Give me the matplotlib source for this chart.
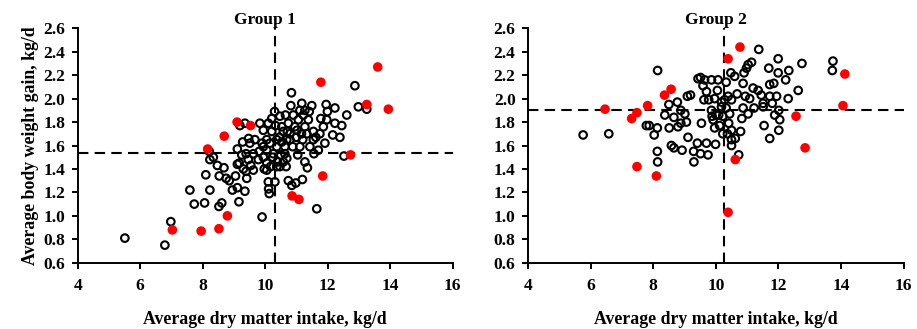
import matplotlib
matplotlib.use("Agg")
import matplotlib.pyplot as plt

plt.rcParams['font.family'] = ['Liberation Serif', 'DejaVu Serif']
plt.rcParams['font.weight'] = 'bold'

# ---- Group 1 data ----
g1_black_x = [5.51, 6.79, 6.98, 7.59, 7.73, 8.06, 8.10, 8.23, 8.52, 8.61, 8.53, 8.47, 8.23, 8.34, 8.21,
              8.68, 8.75, 8.85, 8.95, 9.05, 9.11, 9.16, 9.35, 9.41, 9.90, 9.11, 9.17, 9.11, 9.30, 9.46,
              9.54, 9.39, 9.62, 9.19, 9.35, 9.28, 9.47, 9.51, 9.83, 9.94, 9.90, 9.81, 9.94, 10.05, 9.97,
              10.05, 10.10, 10.13, 10.11, 10.31, 10.24, 10.15, 10.21, 10.21, 10.30, 10.47, 10.53, 10.45, 10.37, 10.50,
              10.47, 10.39, 10.63, 10.63, 10.67, 10.65, 10.74, 10.71, 10.84, 10.82, 10.90, 10.95, 10.79, 10.88, 10.74,
              10.85, 10.98, 11.19, 11.04, 11.11, 11.17, 11.11, 11.06, 11.22, 11.27, 11.33, 11.20, 11.27, 11.35, 11.49,
              11.54, 11.62, 11.43, 11.56, 11.65, 11.78, 11.86, 11.91, 11.95, 11.99, 11.97, 12.16, 12.23, 12.23, 12.39,
              12.45, 12.61, 12.52, 12.87, 12.98, 13.25, 10.05, 10.17, 10.26, 10.37, 10.58, 10.69, 10.53, 10.37, 10.05,
              9.94, 9.67, 9.62, 9.78, 9.39, 9.25, 10.79, 11.00, 11.02, 11.16, 11.38, 11.41, 11.27, 11.54, 11.70,
              11.75, 10.58, 10.69, 10.33, 10.10]
g1_black_y = [0.81, 0.75, 0.95, 1.22, 1.10, 1.11, 1.35, 1.22, 1.08, 1.11, 1.34, 1.43, 1.48, 1.50, 1.55,
              1.41, 1.32, 1.30, 1.22, 1.34, 1.24, 1.12, 1.21, 1.32, 0.99, 1.57, 1.45, 1.44, 1.40, 1.48,
              1.43, 1.38, 1.39, 1.77, 1.79, 1.63, 1.66, 1.62, 1.79, 1.73, 1.62, 1.55, 1.50, 1.45, 1.40,
              1.56, 1.29, 1.19, 1.23, 1.29, 1.50, 1.62, 1.72, 1.83, 1.89, 1.85, 1.76, 1.67, 1.59, 1.52,
              1.42, 1.46, 1.53, 1.59, 1.42, 1.86, 1.79, 1.72, 2.05, 1.94, 1.86, 1.76, 1.65, 1.59, 1.30,
              1.26, 1.28, 1.31, 1.52, 1.59, 1.96, 1.90, 1.82, 1.86, 1.76, 1.70, 1.65, 1.46, 1.41, 1.94,
              1.72, 1.67, 1.59, 1.53, 1.06, 1.83, 1.76, 1.62, 1.95, 1.89, 1.82, 1.69, 1.92, 1.79, 1.67,
              1.77, 1.86, 1.51, 2.11, 1.93, 1.91, 1.39, 1.42, 1.53, 1.42, 1.46, 1.49, 1.63, 1.65, 1.65,
              1.59, 1.65, 1.53, 1.48, 1.53, 1.52, 1.70, 1.67, 1.73, 1.70, 1.82, 1.89, 1.90, 1.65, 1.56,
              1.70, 1.72, 1.65, 1.77, 1.79]
g1_red_x = [7.03, 7.95, 8.52, 8.79, 8.16, 8.69, 9.10, 9.53, 10.86, 11.08, 11.84, 11.78, 12.73, 13.25, 13.60, 13.94]
g1_red_y = [0.88, 0.87, 0.89, 1.00, 1.57, 1.68, 1.80, 1.77, 1.17, 1.14, 1.34, 2.14, 1.52, 1.95, 2.27, 1.91]
g1_vline = 10.32
g1_hline = 1.54

# ---- Group 2 data ----
g2_black_x = [5.76, 6.58, 8.14, 7.78, 7.87, 8.13, 8.03, 8.13, 8.14, 8.37, 8.50, 8.51, 8.66, 8.79, 8.77,
              8.88, 9.01, 9.09, 9.19, 9.06, 8.88, 8.58, 8.66, 8.92, 9.11, 9.41, 9.29, 9.30, 9.51, 9.70,
              9.75, 9.99, 9.43, 9.51, 9.64, 9.59, 9.70, 9.77, 9.86, 10.05, 10.07, 9.96, 9.62, 9.54, 9.86,
              9.91, 9.96, 10.09, 10.18, 10.12, 10.22, 10.28, 10.33, 10.41, 10.44, 10.48, 10.50, 10.50, 10.50, 10.50,
              10.62, 10.60, 10.68, 10.73, 10.79, 10.83, 10.87, 10.87, 10.90, 10.98, 11.03, 11.14, 10.94, 11.08, 11.03,
              11.22, 11.19, 11.35, 11.37, 11.45, 11.51, 11.51, 11.54, 11.72, 11.72, 11.69, 11.80, 11.85, 11.99, 11.99,
              11.88, 11.94, 12.01, 12.04, 12.01, 11.72, 12.23, 12.33, 12.31, 12.63, 12.75, 13.74, 13.72, 10.01, 10.33,
              10.22, 10.18, 10.39, 9.88, 10.37]
g2_black_y = [1.69, 1.70, 2.24, 1.77, 1.77, 1.75, 1.69, 1.55, 1.46, 1.86, 1.95, 1.75, 1.84, 1.76, 1.97,
              1.90, 1.87, 2.02, 2.03, 1.80, 1.79, 1.60, 1.58, 1.56, 1.67, 1.62, 1.55, 1.46, 1.53, 1.62,
              1.52, 1.61, 2.17, 2.18, 2.16, 2.11, 2.06, 1.99, 2.16, 2.07, 2.16, 2.00, 1.99, 1.79, 1.90,
              1.82, 1.75, 1.86, 1.93, 1.77, 1.70, 1.99, 2.14, 1.79, 1.87, 2.22, 1.99, 1.73, 1.65, 1.60,
              1.66, 2.19, 2.04, 1.52, 1.72, 1.83, 1.92, 2.13, 2.22, 2.26, 2.29, 2.31, 2.02, 2.00, 1.87,
              1.92, 2.09, 2.07, 2.42, 2.03, 1.96, 1.93, 1.77, 2.12, 2.02, 2.26, 1.96, 2.13, 2.34, 2.22,
              1.86, 2.02, 1.90, 1.82, 1.73, 1.66, 2.16, 2.24, 2.00, 2.07, 2.30, 2.32, 2.24, 1.86, 1.92,
              1.85, 1.97, 2.02, 1.85, 1.70]
g2_red_x = [6.46, 7.31, 7.48, 7.82, 7.48, 8.10, 8.36, 8.57, 10.39, 10.77, 10.62, 10.39, 12.56, 12.85, 14.06, 14.12]
g2_red_y = [1.91, 1.83, 1.88, 1.94, 1.42, 1.34, 2.03, 2.08, 2.34, 2.44, 1.48, 1.03, 1.85, 1.58, 1.94, 2.21]
g2_vline = 10.25
g2_hline = 1.90

titles = ["Group 1", "Group 2"]
xlabel = "Average dry matter intake, kg/d"
ylabel = "Average body weight gain, kg/d"
xticks = [4, 6, 8, 10, 12, 14, 16]
yticks = [0.6, 0.8, 1.0, 1.2, 1.4, 1.6, 1.8, 2.0, 2.2, 2.4, 2.6]

fig = plt.figure(figsize=(9.17, 3.29), dpi=100)
ax1 = fig.add_axes([0.0847, 0.2015, 0.409, 0.7125])
ax2 = fig.add_axes([0.5758, 0.2015, 0.4097, 0.7125])

panels = [
    (ax1, g1_black_x, g1_black_y, g1_red_x, g1_red_y, g1_vline, g1_hline),
    (ax2, g2_black_x, g2_black_y, g2_red_x, g2_red_y, g2_vline, g2_hline),
]
for i, (ax, bx, by, rx, ry, vl, hl) in enumerate(panels):
    ax.scatter(bx, by, s=30, facecolors='none', edgecolors='black', linewidths=1.5, zorder=3)
    ax.scatter(rx, ry, s=48, color='#ff0000', edgecolors='none', zorder=4)
    ax.axvline(vl, color='black', lw=1.5, ls=(0, (5, 3)), zorder=2)
    ax.axhline(hl, color='black', lw=1.5, ls=(0, (5, 3)), zorder=2)
    ax.set_xlim(4, 16)
    ax.set_ylim(0.6, 2.6)
    ax.set_xticks(xticks)
    ax.set_yticks(yticks)
    ax.set_yticklabels([f"{v:.1f}" for v in yticks])
    ax.spines['top'].set_visible(False)
    ax.spines['right'].set_visible(False)
    ax.spines['left'].set_linewidth(1.4)
    ax.spines['bottom'].set_linewidth(1.4)
    ax.tick_params(direction='out', length=4, width=1.4, labelsize=12.5, pad=5)
    ax.tick_params(axis='x', pad=7)
    for lab in ax.get_xticklabels() + ax.get_yticklabels():
        lab.set_fontweight('bold')
    ax.set_title(titles[i], fontsize=12.5, fontweight='bold', pad=3)
    ax.set_xlabel(xlabel, fontsize=12.8, fontweight='bold', labelpad=12)
ax1.set_ylabel(ylabel, fontsize=12.8, fontweight='bold', labelpad=3)

fig.savefig("out.png", dpi=100)
